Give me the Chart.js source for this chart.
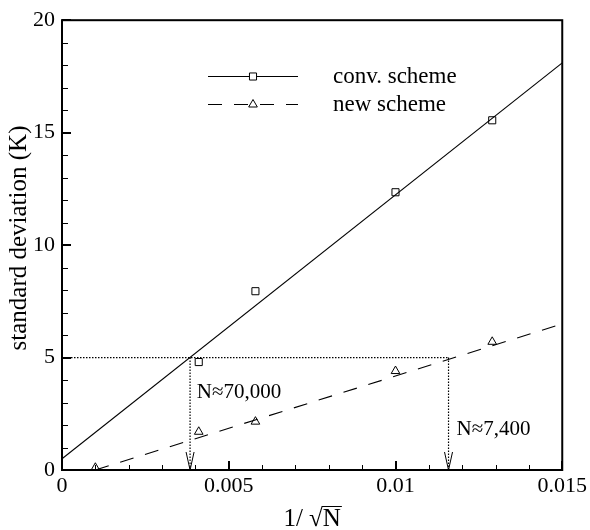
<!DOCTYPE html>
<html><head><meta charset="utf-8">
<script src="https://cdn.jsdelivr.net/npm/chart.js@4"></script>
<style>html,body{margin:0;padding:0;background:#fff}#w{width:590px;height:530px}</style>
</head><body><div id="w"><canvas id="c" width="590" height="530"></canvas></div>
<script>
// ---- data ----
const seriesNames = ['conv. scheme', 'new scheme'];
const convX = [0.0041, 0.0058, 0.0100, 0.0129];
const convY = [4.8, 7.95, 12.35, 15.55];
const newX = [0.0010, 0.0041, 0.0058, 0.0100, 0.0129];
const newY = [0.1, 1.7, 2.15, 4.4, 5.7];
const convFitX = [0, 0.015];
const convFitY = [0.5, 18.1];
const newFitX = [0.001, 0.015];
const newFitY = [0, 6.5];
const guideY = 5;
const crossX = [0.00384, 0.01159];
const annotationTexts = ['N\u224870,000', 'N\u22487,400'];
const annotationX = [0.00404, 0.01183];
const annotationY = [3.45, 1.8];
const xTicks = [0, 0.005, 0.01, 0.015];
const xTickLabels = ['0', '0.005', '0.01', '0.015'];
const yTicks = [0, 5, 10, 15, 20];
const yTickLabels = ['0', '5', '10', '15', '20'];
const xMinorStep = 0.001;
const yMinorStep = 1;
const xTitle = ['1/ ', '\u221A', 'N'];
const yTitle = 'standard deviation (K)';

const FONT = "'Liberation Serif', 'Times New Roman', serif";
const pts = (xs, ys) => xs.map((x, i) => ({x, y: ys[i]}));
const black = '#000';

const decor = {
  id: 'decor',
  afterDraw(chart) {
    const {ctx, chartArea: a, scales: {x, y}} = chart;
    ctx.save();
    // box
    ctx.strokeStyle = black;
    ctx.lineWidth = 2;
    ctx.strokeRect(a.left, a.top, a.right - a.left, a.bottom - a.top);
    // ticks (inward)
    for (let i = 0; i <= Math.round(0.015 / xMinorStep); i++) {
      const v = i * xMinorStep;
      const major = i % 5 === 0;
      const px = Math.round(x.getPixelForValue(v));
      ctx.lineWidth = major ? 2 : 1;
      ctx.beginPath();
      ctx.moveTo(px + (major ? 0 : 0.5), a.bottom);
      ctx.lineTo(px + (major ? 0 : 0.5), a.bottom - (major ? 9 : 5));
      ctx.stroke();
    }
    for (let i = 0; i <= Math.round(20 / yMinorStep); i++) {
      const v = i * yMinorStep;
      const major = i % 5 === 0;
      const py = Math.round(y.getPixelForValue(v));
      ctx.lineWidth = major ? 2 : 1;
      ctx.beginPath();
      ctx.moveTo(a.left, py + (major ? 0 : 0.5));
      ctx.lineTo(a.left + (major ? 9 : 6), py + (major ? 0 : 0.5));
      ctx.stroke();
    }
    // arrow heads at bottom of vertical guides
    ctx.lineWidth = 1;
    crossX.forEach(cx => {
      const px = x.getPixelForValue(cx), py = y.getPixelForValue(0);
      ctx.beginPath();
      ctx.moveTo(px - 4, py - 18);
      ctx.lineTo(px, py);
      ctx.lineTo(px + 4, py - 18);
      ctx.stroke();
    });
    // annotations
    ctx.fillStyle = black;
    ctx.font = '21px ' + FONT;
    ctx.textBaseline = 'middle';
    ctx.textAlign = 'left';
    annotationTexts.forEach((t, i) => {
      ctx.fillText(t, x.getPixelForValue(annotationX[i]), y.getPixelForValue(annotationY[i]));
    });
    // legend
    const lx0 = 208, lx1 = 298, ly = [76, 104];
    ctx.font = '23px ' + FONT;
    [0, 1].forEach(i => {
      ctx.lineWidth = 1;
      ctx.setLineDash(i === 0 ? [] : [14, 12]);
      ctx.beginPath();
      ctx.moveTo(lx0, ly[i] + 0.5);
      ctx.lineTo(lx1, ly[i] + 0.5);
      ctx.stroke();
      ctx.setLineDash([]);
      ctx.fillStyle = '#fff';
      Chart.helpers.drawPoint(ctx, {pointStyle: i === 0 ? 'rect' : 'triangle', radius: 5, borderWidth: 1, rotation: 0}, (lx0 + lx1) / 2, ly[i] + 0.5);
      ctx.fillStyle = black;
      ctx.fillText(seriesNames[i], 333, ly[i] + 1);
    });
    // x title with radical
    ctx.font = '25px ' + FONT;
    ctx.textBaseline = 'alphabetic';
    const w0 = ctx.measureText(xTitle[0]).width;
    const w1 = ctx.measureText(xTitle[1]).width;
    const w2 = ctx.measureText(xTitle[2]).width;
    const tot = w0 + w1 + w2;
    const cx = (a.left + a.right) / 2;
    const base = 526;
    let sx = cx - tot / 2;
    ctx.fillText(xTitle[0], sx, base);
    ctx.fillText(xTitle[1], sx + w0, base);
    ctx.fillText(xTitle[2], sx + w0 + w1, base);
    const asc = ctx.measureText(xTitle[1]).actualBoundingBoxAscent;
    ctx.lineWidth = 1;
    ctx.beginPath();
    ctx.moveTo(sx + w0 + w1 - 1, base - asc + 0.5);
    ctx.lineTo(sx + tot + 1, base - asc + 0.5);
    ctx.stroke();
    // y title
    ctx.save();
    ctx.translate(19, 238);
    ctx.rotate(-Math.PI / 2);
    ctx.textAlign = 'center';
    ctx.textBaseline = 'middle';
    ctx.fillText(yTitle, 0, 0);
    ctx.restore();
    ctx.restore();
  }
};

const guide = (d) => ({data: d, showLine: true, borderColor: black, borderWidth: 1.2, borderDash: [1.5, 1.5], pointRadius: 0, fill: false});

new Chart(document.getElementById('c'), {
  type: 'scatter',
  data: {datasets: [
    {label: seriesNames[0] + ' fit', data: pts(convFitX, convFitY), showLine: true, borderColor: black, borderWidth: 1.1, pointRadius: 0},
    {label: seriesNames[0], data: pts(convX, convY), pointStyle: 'rect', pointRadius: 5, backgroundColor: '#fff', borderColor: black, borderWidth: 1},
    {label: seriesNames[1] + ' fit', data: pts(newFitX, newFitY), showLine: true, borderColor: black, borderWidth: 1.1, borderDash: [14, 12], pointRadius: 0},
    {label: seriesNames[1], data: pts(newX, newY), pointStyle: 'triangle', pointRadius: 5, backgroundColor: '#fff', borderColor: black, borderWidth: 1},
    guide([{x: 0, y: guideY}, {x: crossX[1], y: guideY}]),
    guide([{x: crossX[0], y: guideY}, {x: crossX[0], y: 0}]),
    guide([{x: crossX[1], y: guideY}, {x: crossX[1], y: 0}])
  ]},
  options: {
    animation: false, responsive: false, devicePixelRatio: 1,
    layout: {padding: {left: 0, right: 27, top: 14, bottom: 0}},
    plugins: {legend: {display: false}, tooltip: {enabled: false}},
    scales: {
      x: {
        type: 'linear', min: 0, max: 0.015,
        afterBuildTicks: s => { s.ticks = xTicks.map(v => ({value: v})); },
        afterFit: s => { s.height = 60; },
        grid: {display: false, drawTicks: false}, border: {display: false},
        ticks: {callback: (v, i) => xTickLabels[i], color: black, font: {family: FONT, size: 22}, padding: 3, maxRotation: 0, autoSkip: false}
      },
      y: {
        type: 'linear', min: 0, max: 20,
        afterBuildTicks: s => { s.ticks = yTicks.map(v => ({value: v})); },
        afterFit: s => { s.width = 62; },
        grid: {display: false, drawTicks: false}, border: {display: false},
        ticks: {callback: (v, i) => yTickLabels[i], color: black, font: {family: FONT, size: 22}, padding: 7, autoSkip: false}
      }
    }
  },
  plugins: [decor]
});
</script>
</body></html>
